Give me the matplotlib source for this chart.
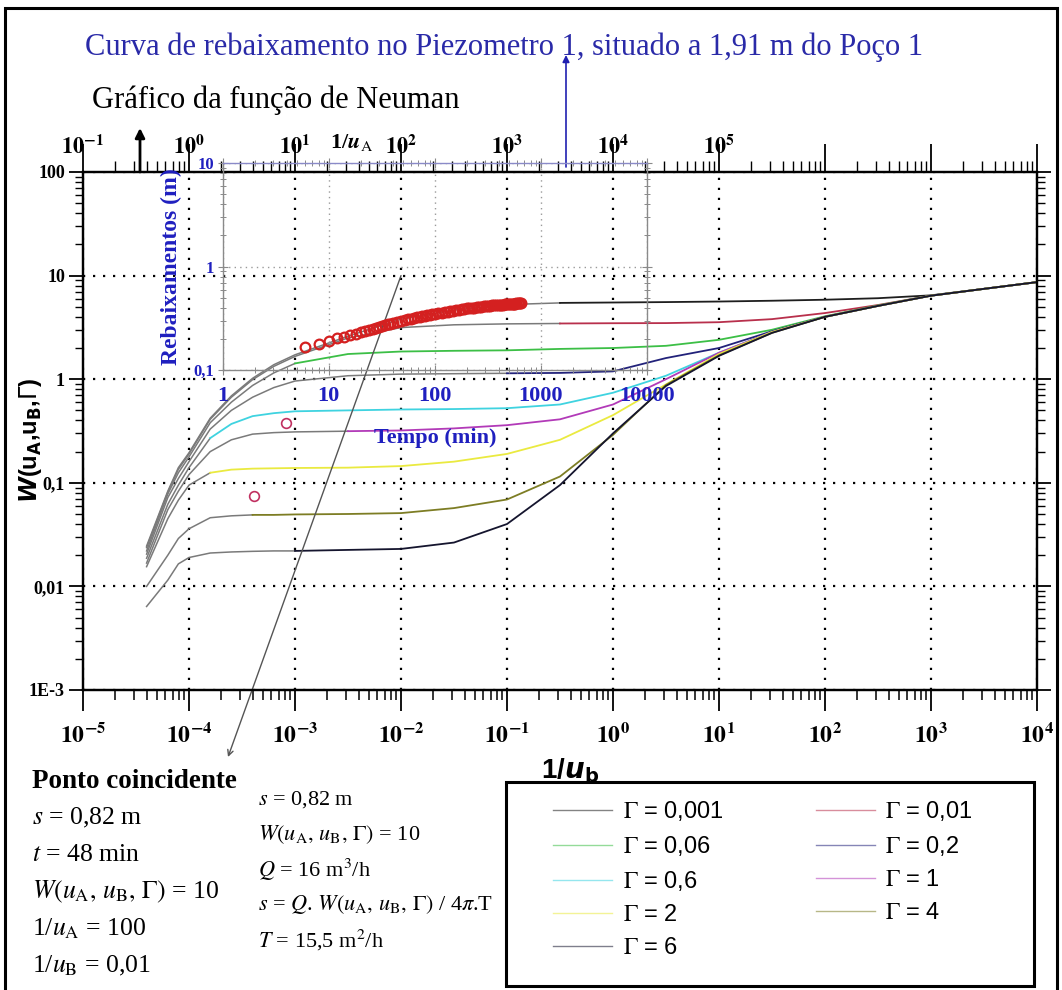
import numpy as np
import matplotlib
matplotlib.use('Agg')
import matplotlib.pyplot as plt
from matplotlib.lines import Line2D
from matplotlib.patches import Rectangle
from matplotlib.ticker import LogLocator, NullFormatter

plt.rcParams['font.family'] = ['Liberation Serif', 'DejaVu Serif']
plt.rcParams['mathtext.fontset'] = 'stix'

# --- Neuman type curves: W(uA, uB, Gamma) vs 1/uB ---
inv_ub = [3.98e-5, 6.31e-5, 7.94e-5, 1.0e-4, 1.585e-4, 2.51e-4, 3.98e-4, 6.31e-4,
          1.0e-3, 3.16e-3, 1.0e-2, 3.16e-2, 0.1, 0.316, 1.0, 3.16, 10, 31.6,
          100, 316, 1000, 3160, 10000]

gammas = ['0,001', '0,01', '0,06', '0,2', '0,6', '1', '2', '4', '6']
w_g0001 = [0.0245, 0.083, 0.14, 0.195, 0.42, 0.69, 1.02, 1.38, 1.72, 2.6, 3.8, 4.65,
           5.25, 5.45, 5.5, 5.55, 5.62, 5.72, 5.85, 6.05, 6.45, 7.45, 8.65]
w_g001 = [0.0237, 0.081, 0.135, 0.19, 0.41, 0.67, 0.99, 1.33, 1.66, 2.5, 3.15, 3.35,
          3.42, 3.45, 3.47, 3.48, 3.55, 3.8, 4.35, 5.2, 6.4, 7.45, 8.65]
w_g006 = [0.022, 0.078, 0.125, 0.178, 0.38, 0.6, 0.87, 1.15, 1.42, 1.75, 1.85, 1.88,
          1.9, 1.96, 2.0, 2.1, 2.4, 3.0, 4.05, 5.15, 6.4, 7.45, 8.65]
w_g02 = [0.0205, 0.072, 0.11, 0.16, 0.33, 0.5, 0.67, 0.83, 0.96, 1.08, 1.12, 1.13,
         1.14, 1.15, 1.19, 1.6, 2.0, 2.9, 4.0, 5.1, 6.4, 7.45, 8.65]
w_g06 = [0.0187, 0.062, 0.095, 0.14, 0.27, 0.37, 0.44, 0.47, 0.49, 0.5, 0.51, 0.515,
         0.525, 0.57, 0.74, 1.08, 1.8, 2.85, 4.0, 5.1, 6.4, 7.45, 8.65]
w_g1 = [0.0168, 0.055, 0.083, 0.12, 0.2, 0.26, 0.295, 0.305, 0.31, 0.315, 0.32, 0.335,
        0.36, 0.41, 0.57, 1.0, 1.8, 2.85, 4.0, 5.1, 6.4, 7.45, 8.65]
w_g2 = [0.0155, 0.045, 0.068, 0.095, 0.125, 0.134, 0.137, 0.138, 0.139, 0.14, 0.145, 0.16,
        0.19, 0.26, 0.45, 0.89, 1.75, 2.85, 4.0, 5.1, 6.4, 7.45, 8.65]
w_g4 = [0.0100, 0.020, 0.029, 0.036, 0.046, 0.048, 0.049, 0.049, 0.0495, 0.050, 0.051, 0.057,
        0.069, 0.115, 0.29, 0.88, 1.7, 2.8, 4.0, 5.1, 6.4, 7.45, 8.65]
w_g6 = [0.0064, 0.0115, 0.0165, 0.019, 0.021, 0.0215, 0.0218, 0.022, 0.022, 0.0225, 0.023, 0.0265,
        0.040, 0.095, 0.30, 0.86, 1.68, 2.8, 4.0, 5.1, 6.4, 7.45, 8.65]
curves = [w_g0001, w_g001, w_g006, w_g02, w_g06, w_g1, w_g2, w_g4, w_g6]

# --- drawdown in piezometer 1 ---
t_min = [6, 8, 10, 12, 14, 16, 18, 20, 22, 24, 26, 28, 30, 32, 34, 36, 38, 40,
         44, 48, 52, 56, 60, 64, 68, 72, 76, 80, 85, 90, 95, 100,
         108, 116, 124, 132, 140, 150, 160, 170, 180, 190, 200,
         212, 224, 236, 248, 260, 275, 290, 305, 320, 335, 350, 365, 380, 395,
         410, 425, 440, 455, 470, 485, 500, 515, 530, 545, 560, 575, 590, 605, 620, 635, 648]
s_m = [0.167, 0.181, 0.192, 0.203, 0.211, 0.219, 0.226, 0.232, 0.239, 0.246, 0.252, 0.258,
       0.263, 0.268, 0.273, 0.277, 0.281, 0.285,
       0.292, 0.298, 0.304, 0.310, 0.315, 0.319, 0.324, 0.328, 0.332, 0.336, 0.340, 0.344, 0.348, 0.352,
       0.357, 0.361, 0.365, 0.369, 0.373, 0.377, 0.381, 0.385, 0.389, 0.392, 0.395,
       0.398, 0.400, 0.403, 0.405, 0.408, 0.410, 0.413, 0.415, 0.418, 0.420, 0.422, 0.424, 0.426, 0.428,
       0.429, 0.430, 0.431, 0.433, 0.434, 0.435, 0.436, 0.437, 0.438, 0.439, 0.440, 0.441, 0.442,
       0.443, 0.444, 0.445, 0.446]
t_early = [1.96, 3.93]
s_early = [0.0061, 0.031]

# match point
s_match, t_match, w_match = 0.82, 48, 10
inv_ua_match, inv_ub_match = 100, 0.01
q_flow, transm = 16, 15.5

# styles
colors = ['#1e1e1e', '#b8304c', '#3cbf46', '#22227a', '#3fd3e0', '#b23ab8', '#eaea40', '#7d7d24', '#15152e']
grey_end = [0.8, 0.8, 1e-3, 0.1, 2.5e-4, 3.2e-3, 1.6e-4, 4e-4, 1e-3]
early_grey = '#7a7a7a'
blue = '#1f1fbf'


def br(v):
    return f'{v:g}'.replace('.', ',')


fig = plt.figure(figsize=(10.62, 9.9), dpi=100)
W, H = 1062, 990
ax = fig.add_axes([83 / W, 1 - 690 / H, (1037 - 83) / W, (690 - 172) / H])
ax.set_xscale('log')
ax.set_yscale('log')
ax.set_xlim(1e-5, 1e4)
ax.set_ylim(1e-3, 100)

x = np.array(inv_ub)
for w, col, g in zip(curves, colors, grey_end):
    w = np.asarray(w)
    k = np.searchsorted(x, g, side='right')
    ax.plot(x[:k], w[:k], color=early_grey, lw=1.1, zorder=3)
    ax.plot(x[k - 1:], w[k - 1:], color=col, lw=1.3, zorder=3)

ax.grid(which='major', color='black', linestyle=(0, (1, 3.5)), linewidth=1.6)
dec_x = [1e-5, 1e-4, 1e-3, 1e-2, 1e-1, 1, 10, 100, 1e3, 1e4]
ax.set_xticks(dec_x)
ax.set_xticklabels([r'$\mathbf{10}^{\mathbf{%d}}$' % int(np.log10(v)) for v in dec_x])
ax.set_yticks([1e-3, 1e-2, 0.1, 1, 10, 100])
ax.set_yticklabels(['1E-3', '0,01', '0,1', '1', '10', '100'], fontweight='bold')
for a in (ax.xaxis, ax.yaxis):
    a.set_minor_locator(LogLocator(base=10, subs=np.arange(2, 10), numticks=30))
    a.set_minor_formatter(NullFormatter())
ax.tick_params(axis='x', which='major', direction='out', length=15, width=1.3, pad=9, labelsize=17)
ax.tick_params(axis='x', which='minor', direction='out', length=7, width=1.1)
ax.tick_params(axis='y', which='major', direction='out', length=10, width=1.3, pad=3,
               labelsize=13, right=True)
ax.tick_params(axis='y', which='minor', direction='out', length=6, width=1.0, right=True)
for sp in ax.spines.values():
    sp.set_linewidth(1.6)

# top axis: 1/uA
ratio = inv_ua_match / inv_ub_match
ax_top = ax.twiny()
ax_top.set_xscale('log')
ax_top.set_xlim(1e-5 * ratio, 1e4 * ratio)
dec_top = [1e-1, 1, 10, 100, 1e3, 1e4, 1e5, 1e6, 1e7, 1e8]
ax_top.set_xticks(dec_top)
ax_top.set_xticklabels([r'$\mathbf{10}^{\mathbf{%d}}$' % int(np.log10(v)) if v <= 1e5 else ''
                        for v in dec_top])
ax_top.xaxis.set_minor_locator(LogLocator(base=10, subs=np.arange(2, 10), numticks=30))
ax_top.xaxis.set_minor_formatter(NullFormatter())
ax_top.tick_params(axis='x', which='major', direction='out', length=20, width=1.3, pad=-11, labelsize=16)
ax_top.tick_params(axis='x', which='minor', direction='out', length=8, width=1.0)
for sp in ax_top.spines.values():
    sp.set_linewidth(1.6)

# inset: drawdown vs time, placed through the match point
to_fig = ax.transData + fig.transFigure.inverted()
x_lo = 1 * inv_ua_match / t_match / ratio
x_hi = 1e4 * inv_ua_match / t_match / ratio
y_lo = 0.1 * w_match / s_match
y_hi = 10 * w_match / s_match
(fx0, fy0), (fx1, fy1) = to_fig.transform([(x_lo, y_lo), (x_hi, y_hi)])
axin = fig.add_axes([fx0, fy0, fx1 - fx0, fy1 - fy0], facecolor='none')
axin.set_xscale('log')
axin.set_yscale('log')
axin.set_xlim(1, 1e4)
axin.set_ylim(0.1, 10)
axin.grid(which='major', color='#9a9a9a', linestyle=(0, (1, 3)), linewidth=1.0)
axin.plot(t_min, s_m, 'o', ms=7, mfc='none', mec='#d42020', mew=1.6, zorder=4)
axin.plot(t_early, s_early, 'o', ms=7, mfc='none', mec='#c03060', mew=1.2, clip_on=False, zorder=4)
axin.set_xticks([1, 10, 100, 1000, 10000])
axin.set_xticklabels(['1', '10', '100', '1000', '10000'], fontweight='bold', fontsize=16)
axin.set_yticks([0.1, 1, 10])
axin.set_yticklabels(['0,1', '1', '10'], fontweight='bold', fontsize=12)
axin.xaxis.set_minor_formatter(NullFormatter())
axin.yaxis.set_minor_formatter(NullFormatter())
axin.tick_params(which='major', direction='inout', length=7, width=0.8, color='#8a8a8a',
                 labelcolor=blue, top=True, right=True)
axin.tick_params(axis='x', which='major', pad=8)
axin.tick_params(axis='y', which='major', pad=3)
axin.tick_params(which='minor', direction='inout', length=4, width=0.7, color='#8a8a8a',
                 top=True, right=True)
for sp in axin.spines.values():
    sp.set_color('#8a8a8a')
    sp.set_linewidth(1.0)
axin.spines['top'].set_color('#8a8ac8')
axin.set_xlabel('Tempo (min)', color=blue, fontweight='bold', fontsize=16, labelpad=16)
axin.set_ylabel('Rebaixamentos (m)', color=blue, fontweight='bold', fontsize=17, labelpad=8)

# axis titles
fig.text(30 / W, 1 - 440 / H, r'$\mathbfit{W}$(u$_\mathbf{A}$,u$_\mathbf{B}$,$\Gamma$)',
         rotation=90, ha='center', va='center', fontsize=17, fontweight='bold',
         family='Liberation Sans', math_fontfamily='dejavusans')
fig.text(570 / W, 1 - 771 / H, r'1/$\mathbfit{u}_\mathbf{b}$', ha='center', va='center',
         fontsize=20, fontweight='bold', family='Liberation Sans', math_fontfamily='dejavusans')
fig.text(352 / W, 1 - 143 / H, r'1/$\mathbfit{u}_\mathrm{A}$', ha='center', va='center',
         fontsize=16, fontweight='bold')

fig.text(85 / W, 1 - 47 / H, 'Curva de rebaixamento no Piezometro 1, situado a 1,91 m do Poço 1',
         color='#2a2aa8', fontsize=22, ha='left', va='center')
fig.text(92 / W, 1 - 100 / H, 'Gráfico da função de Neuman', color='black', fontsize=22,
         ha='left', va='center')

ax.annotate('', xy=(566 / W, 1 - 55 / H), xycoords='figure fraction',
            xytext=(566 / W, 1 - 167 / H), textcoords='figure fraction',
            arrowprops=dict(arrowstyle='-|>', color='#2020b0', lw=1.2, mutation_scale=10,
                            shrinkA=0, shrinkB=0), annotation_clip=False)
ax.annotate('', xy=(140 / W, 1 - 128 / H), xycoords='figure fraction',
            xytext=(140 / W, 1 - 172 / H), textcoords='figure fraction',
            arrowprops=dict(arrowstyle='-|>', color='black', lw=2, mutation_scale=14,
                            shrinkA=0, shrinkB=0), annotation_clip=False)
ax.annotate('', xy=(228 / W, 1 - 757 / H), xycoords='figure fraction',
            xytext=(inv_ub_match, w_match), textcoords='data',
            arrowprops=dict(arrowstyle='->', color='#555555', lw=1.0, mutation_scale=10,
                            shrinkA=0, shrinkB=0), annotation_clip=False, zorder=5)

# match point text
wtxt = r'$W(u_{\mathrm{A}},\,u_{\mathrm{B}},\,\Gamma)$'
fig.text(32 / W, 1 - 781 / H, 'Ponto coincidente', fontweight='bold', fontsize=19.5, va='center')
left_lines = [r'$s$ = %s m' % br(s_match),
              r'$t$ = %s min' % br(t_match),
              wtxt + ' = %s' % br(w_match),
              r'1/$u_{\mathrm{A}}$ = %s' % br(inv_ua_match),
              r'1/$u_{\mathrm{B}}$ = %s' % br(inv_ub_match)]
for i, txt in enumerate(left_lines):
    fig.text(32 / W, 1 - (818 + 37 * i) / H, txt, fontsize=18.5, va='center')
mid_lines = [r'$s$ = %s m' % br(s_match),
             wtxt + ' = %s' % br(w_match),
             r'$Q$ = %s m$^3$/h' % br(q_flow),
             r'$s$ = $Q$. ' + wtxt + r' / 4$\pi$.T',
             r'$T$ = %s m$^2$/h' % br(transm)]
for i, txt in enumerate(mid_lines):
    fig.text(258 / W, 1 - (800 + 35 * i) / H, txt, fontsize=16, va='center')

# legend
order = [0, 2, 4, 6, 8, 1, 3, 5, 7]
handles = [Line2D([], [], color=colors[i], lw=1.0, alpha=0.55) for i in order]
labels = [r'$\Gamma$ = ' + gammas[i] for i in order]
leg = fig.legend(handles, labels, loc='upper left', bbox_to_anchor=(553 / W, 1 - 799 / H),
                 ncol=2, frameon=False, handlelength=2.5, handletextpad=0.45,
                 columnspacing=3.9, labelspacing=0.47, borderpad=0, borderaxespad=0,
                 prop={'family': 'Liberation Sans', 'size': 17})
for t in leg.get_texts():
    t.set_math_fontfamily('stix')

fig.add_artist(Rectangle((506 / W, 1 - 986 / H), 528 / W, 204 / H, transform=fig.transFigure,
                         fill=False, lw=2.2, ec='black'))
fig.add_artist(Rectangle((5 / W, -0.02), 1052 / W, 1.02 - 8 / H, transform=fig.transFigure,
                         fill=False, lw=2.2, ec='black'))

fig.savefig('out.png', dpi=100)
